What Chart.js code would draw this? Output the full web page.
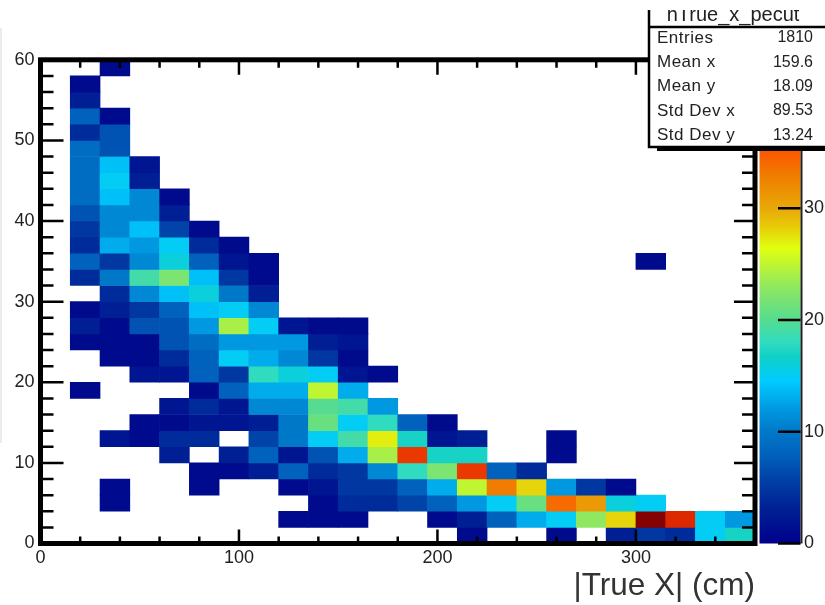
<!DOCTYPE html>
<html>
<head>
<meta charset="utf-8">
<title>hTrue_x_pecut</title>
<script src="https://cdn.jsdelivr.net/npm/chart.js@4"></script>
<style>
  html, body { margin: 0; padding: 0; background: #fff; }
  canvas { display: block; filter: blur(0.65px); }
</style>
</head>
<body>
<canvas id="chart" width="825" height="605"></canvas>
<script>
// bin edges of the 2D histogram
const xBinWidth = 15;
const yBinWidth = 2;

// counts, first row is y = 0-2, one entry per x bin
const counts = [
  [0,0,0,0,0,0,0,0,0,0,0,0,0,0,1,0,0,1,0,3,5,4,15,17],
  [0,0,0,0,0,0,0,0,1,1,1,0,0,1,3,8,13,15,23,28,43,38,15,12],
  [0,0,1,0,0,0,0,0,0,1,4,4,6,8,12,15,21,34,31,16,15,0,0,0],
  [0,0,1,0,0,1,0,0,1,2,5,5,8,13,25,33,28,12,5,1,0,0,0,0],
  [0,0,0,0,0,1,1,3,8,4,5,11,18,22,37,8,4,0,0,0,0,0,0,0],
  [0,0,0,0,3,0,3,8,2,7,13,24,37,17,17,0,0,1,0,0,0,0,0,0],
  [0,0,2,1,4,4,0,6,10,15,19,27,17,2,3,0,0,1,0,0,0,0,0,0],
  [0,0,0,1,1,2,2,3,10,21,15,18,8,1,0,0,0,0,0,0,0,0,0,0],
  [0,0,0,0,2,4,2,11,11,20,19,12,0,0,0,0,0,0,0,0,0,0,0,0],
  [0,1,0,0,0,1,8,13,13,25,13,0,0,0,0,0,0,0,0,0,0,0,0,0],
  [0,0,0,2,2,8,5,18,16,15,2,1,0,0,0,0,0,0,0,0,0,0,0,0],
  [0,0,1,1,4,8,15,13,11,5,1,0,0,0,0,0,0,0,0,0,0,0,0,0],
  [0,1,1,1,7,9,12,12,12,3,2,0,0,0,0,0,0,0,0,0,0,0,0,0],
  [0,3,1,7,7,12,24,15,2,1,1,0,0,0,0,0,0,0,0,0,0,0,0,0],
  [0,1,3,5,8,14,15,11,0,0,0,0,0,0,0,0,0,0,0,0,0,0,0,0],
  [0,0,4,11,14,16,10,3,0,0,0,0,0,0,0,0,0,0,0,0,0,0,0,0],
  [0,4,10,19,22,14,5,1,0,0,0,0,0,0,0,0,0,0,0,0,0,0,0,0],
  [0,8,5,11,16,8,2,1,0,0,0,0,0,0,0,0,0,0,0,0,1,0,0,0],
  [0,4,13,12,15,4,1,0,0,0,0,0,0,0,0,0,0,0,0,0,0,0,0,0],
  [0,5,11,14,6,1,0,0,0,0,0,0,0,0,0,0,0,0,0,0,0,0,0,0],
  [0,7,11,11,3,0,0,0,0,0,0,0,0,0,0,0,0,0,0,0,0,0,0,0],
  [0,9,14,11,1,0,0,0,0,0,0,0,0,0,0,0,0,0,0,0,0,0,0,0],
  [0,9,15,3,0,0,0,0,0,0,0,0,0,0,0,0,0,0,0,0,0,0,0,0],
  [0,9,14,2,0,0,0,0,0,0,0,0,0,0,0,0,0,0,0,0,0,0,0,0],
  [0,9,7,0,0,0,0,0,0,0,0,0,0,0,0,0,0,0,0,0,0,0,0,0],
  [0,4,7,0,0,0,0,0,0,0,0,0,0,0,0,0,0,0,0,0,0,0,0,0],
  [0,8,1,0,0,0,0,0,0,0,0,0,0,0,0,0,0,0,0,0,0,0,0,0],
  [0,3,0,0,0,0,0,0,0,0,0,0,0,0,0,0,0,0,0,0,0,0,0,0],
  [0,1,0,0,0,0,0,0,0,0,0,0,0,0,0,0,0,0,0,0,0,0,0,0],
  [0,0,1,0,0,0,0,0,0,0,0,0,0,0,0,0,0,0,0,0,0,0,0,0],
];

const xTickValues = [0,20,40,60,80,100,120,140,160,180,200,220,240,260,280,300,320,340,360];
const yTickValues = [0,2,4,6,8,10,12,14,16,18,20,22,24,26,28,30,32,34,36,38,40,42,44,46,48,50,52,54,56,58,60];
const zTickValues = [0,10,20,30];
const zMax = 43.3;

const xTitle = "|True X| (cm)";
const statsTitle = "hTrue_x_pecut";
const statsLabels = ["Entries", "Mean x", "Mean y", "Std Dev x", "Std Dev y"];
const statsValues = ["1810", "159.6", "18.09", "89.53", "13.24"];

// palette as seen on the colour bar
const paletteZ = [0, 3, 5.7, 8, 10, 12, 14.6, 16.7, 18, 20, 23, 26.4, 28.5, 30, 33, 35.5, 38, 43.3];
const paletteColors = ["#00008a", "#001f94", "#0040a6", "#0062bc", "#0078c8", "#0098e0", "#00ccff",
  "#10d0c8", "#30dcc0", "#55dc90", "#90e860", "#e0ff10", "#e8c808", "#e8a808", "#f07c00", "#ff5000",
  "#dd2800", "#800000"];

const FONT = '"Liberation Sans", Helvetica, Arial, sans-serif';
const TEXT_COLOR = "#222";

function hexToRgb(hex) {
  const n = parseInt(hex.slice(1), 16);
  return [n >> 16, (n >> 8) & 255, n & 255];
}

function colorFor(z) {
  let i = 0;
  while (i < paletteZ.length - 2 && z > paletteZ[i + 1]) i++;
  const t = Math.min(1, (z - paletteZ[i]) / (paletteZ[i + 1] - paletteZ[i]));
  const a = hexToRgb(paletteColors[i]);
  const b = hexToRgb(paletteColors[i + 1]);
  return "rgb(" + a.map((v, k) => Math.round(v + (b[k] - v) * t)).join(",") + ")";
}

const cells = [];
const cellColors = [];
counts.forEach((row, j) => {
  row.forEach((z, i) => {
    if (!z) return;
    cells.push({ x: (i + 0.5) * xBinWidth, y: [j * yBinWidth, (j + 1) * yBinWidth] });
    cellColors.push(colorFor(z));
  });
});

// ROOT style frame: ticks inside on all four sides, z palette, stats box
const framePlugin = {
  id: "frame",
  afterDatasetsDraw(chart) {
    const { ctx, chartArea: area, scales } = chart;
    ctx.save();

    // faint edge of the window the picture was grabbed from
    ctx.fillStyle = "#ececec";
    ctx.fillRect(0, 28, 2, 415);

    ctx.strokeStyle = "#000";
    ctx.lineWidth = 2.5;
    ctx.beginPath();
    xTickValues.forEach((v) => {
      const px = scales.x.getPixelForValue(v);
      const big = v % 100 === 0;
      ctx.moveTo(px, area.bottom);
      ctx.lineTo(px, area.bottom - (big ? 14 : 7));
      ctx.moveTo(px, area.top);
      ctx.lineTo(px, area.top + (big ? 15 : 8));
    });
    yTickValues.forEach((v) => {
      const py = scales.y.getPixelForValue(v);
      const big = v % 10 === 0;
      ctx.moveTo(area.left, py);
      ctx.lineTo(area.left + (big ? 23 : 13), py);
      ctx.moveTo(area.right, py);
      ctx.lineTo(area.right - (big ? 21 : 13), py);
    });
    ctx.stroke();

    ctx.lineWidth = 5;
    ctx.strokeRect(area.left, area.top, area.right - area.left, area.bottom - area.top);

    // colour bar
    const barLeft = 759.5;
    const barRight = 800.5;
    const barBottom = scales.z.getPixelForValue(0);
    const barTop = scales.z.getPixelForValue(zMax);
    const grad = ctx.createLinearGradient(0, barBottom, 0, barTop);
    paletteZ.forEach((z, i) => grad.addColorStop(z / zMax, paletteColors[i]));
    ctx.fillStyle = grad;
    ctx.fillRect(barLeft, barTop, barRight - barLeft, barBottom - barTop);
    ctx.lineWidth = 2;
    ctx.strokeStyle = "#222";
    ctx.beginPath();
    ctx.moveTo(barRight + 1, barTop);
    ctx.lineTo(barRight + 1, barBottom);
    ctx.stroke();
    ctx.strokeStyle = "#000";
    ctx.lineWidth = 2.5;
    ctx.beginPath();
    zTickValues.forEach((v) => {
      const py = scales.z.getPixelForValue(v);
      ctx.moveTo(778, py);
      ctx.lineTo(barRight, py);
    });
    ctx.stroke();

    // stats box, title is cut off by the top of the box
    const boxLeft = 649;
    const boxTop = 10;
    const boxBottom = 147;
    ctx.fillStyle = "#fff";
    ctx.fillRect(boxLeft, 0, 825 - boxLeft, boxBottom);
    ctx.fillStyle = "#000";
    ctx.fillRect(657, boxBottom, 825 - 657, 4);
    ctx.strokeStyle = "#000";
    ctx.lineWidth = 2.5;
    ctx.beginPath();
    ctx.moveTo(boxLeft, boxTop);
    ctx.lineTo(boxLeft, boxBottom);
    ctx.lineTo(825, boxBottom);
    ctx.moveTo(boxLeft, 27);
    ctx.lineTo(825, 27);
    ctx.stroke();

    ctx.fillStyle = TEXT_COLOR;
    ctx.save();
    ctx.beginPath();
    ctx.rect(boxLeft, boxTop, 825 - boxLeft, 16);
    ctx.clip();
    ctx.font = "20px " + FONT;
    ctx.textAlign = "center";
    ctx.textBaseline = "alphabetic";
    ctx.fillText(statsTitle, 733, 21);
    ctx.restore();

    ctx.textBaseline = "middle";
    statsLabels.forEach((label, i) => {
      const py = 38 + i * 24.3;
      ctx.font = "17px " + FONT;
      ctx.letterSpacing = "0.5px";
      ctx.textAlign = "left";
      ctx.fillText(label, 657, py);
      ctx.font = "16px " + FONT;
      ctx.letterSpacing = "0px";
      ctx.textAlign = "right";
      ctx.fillText(statsValues[i], 813, py);
    });
    ctx.restore();
  },
};

new Chart(document.getElementById("chart"), {
  type: "bar",
  data: {
    datasets: [{
      data: cells,
      backgroundColor: cellColors,
      borderWidth: 0,
      grouped: false,
      barPercentage: 1,
      categoryPercentage: 1,
    }],
  },
  options: {
    responsive: false,
    animation: false,
    events: [],
    layout: { padding: { top: 58 } },
    plugins: { legend: { display: false }, tooltip: { enabled: false } },
    scales: {
      x: {
        type: "linear",
        min: 0,
        max: 360,
        offset: false,
        grid: { display: false, drawTicks: false },
        border: { display: false },
        afterBuildTicks(scale) { scale.ticks = xTickValues.map((value) => ({ value })); },
        afterFit(scale) { scale.height = 61.5; },
        ticks: {
          autoSkip: false,
          maxRotation: 0,
          padding: 4,
          color: TEXT_COLOR,
          font: { family: FONT, size: 18 },
          callback: (v) => (v % 100 === 0 ? String(v) : ""),
        },
        title: {
          display: true,
          text: xTitle,
          align: "end",
          color: "#333",
          font: { family: FONT, size: 31.5 },
          padding: 0,
        },
      },
      y: {
        type: "linear",
        position: "left",
        min: 0,
        max: 60,
        grid: { display: false, drawTicks: false },
        border: { display: false },
        afterBuildTicks(scale) { scale.ticks = yTickValues.map((value) => ({ value })); },
        afterFit(scale) { scale.width = 40.5; },
        ticks: {
          autoSkip: false,
          padding: 6,
          color: TEXT_COLOR,
          font: { family: FONT, size: 18 },
          callback: (v) => (v % 10 === 0 ? String(v) : ""),
        },
      },
      z: {
        type: "linear",
        position: "right",
        min: 0,
        max: zMax,
        grid: { display: false, drawTicks: false },
        border: { display: false },
        afterBuildTicks(scale) { scale.ticks = zTickValues.map((value) => ({ value })); },
        afterFit(scale) { scale.width = 70; },
        ticks: {
          autoSkip: false,
          padding: 49,
          align: "center",
          color: TEXT_COLOR,
          font: { family: FONT, size: 18 },
        },
      },
    },
  },
  plugins: [framePlugin],
});
</script>
</body>
</html>
